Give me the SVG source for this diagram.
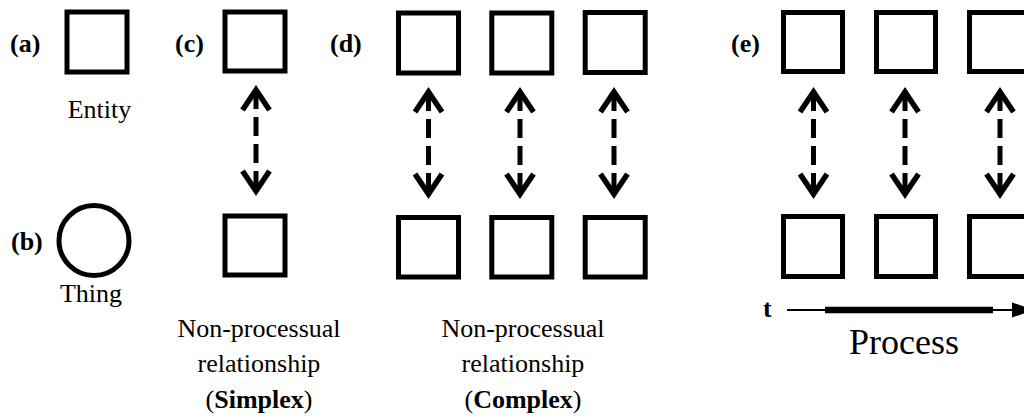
<svg xmlns="http://www.w3.org/2000/svg" width="1024" height="416" viewBox="0 0 1024 416">
  <style>
    .box { fill: #fff; stroke: #000; stroke-width: 5; }
    text { font-family: 'Liberation Serif', 'Times New Roman', 'DejaVu Serif', serif; font-size: 26px; fill: #000; }
    .tag { font-weight: bold; }
    .mid { text-anchor: middle; }
    .link { fill: none; stroke: #000; stroke-width: 5; stroke-dasharray: 19 8; }
    .axis-thin { stroke: #000; stroke-width: 2.2; }
    .axis-thick { stroke: #000; stroke-width: 6.5; }
  </style>
  <defs>
    <!-- open chevron head used on both ends of the dashed links -->
    <marker id="chev" markerUnits="userSpaceOnUse" markerWidth="40" markerHeight="40"
            viewBox="-30 -20 40 40" refX="0" refY="0" orient="auto-start-reverse" overflow="visible">
      <path d="M-20,-13.5 L0,0 L-20,13.5" fill="none" stroke="#000" stroke-width="5.5" stroke-dasharray="none" stroke-linejoin="miter"/>
    </marker>
  </defs>
  <rect width="1024" height="416" fill="#fff"/>

  <!-- panel labels -->
  <g id="panel-labels">
    <text class="tag" x="10" y="52" font-family="Liberation Serif, serif">(a)</text>
    <text class="tag" x="11" y="250" font-family="Liberation Serif, serif">(b)</text>
    <text class="tag" x="175" y="52" font-family="Liberation Serif, serif">(c)</text>
    <text class="tag" x="330" y="52" font-family="Liberation Serif, serif">(d)</text>
    <text class="tag" x="731" y="52" font-family="Liberation Serif, serif">(e)</text>
  </g>

  <!-- (a) entity -->
  <g id="entity">
    <rect class="box" x="67" y="12" width="60" height="60"/>
    <text class="mid" x="99.5" y="118">Entity</text>
  </g>

  <!-- (b) thing -->
  <g id="thing">
    <circle cx="94" cy="240.5" r="35" fill="#fff" stroke="#000" stroke-width="5"/>
    <text class="mid" x="91" y="302">Thing</text>
  </g>

  <!-- (c) simplex -->
  <g id="simplex-top"><rect class="box" x="225" y="12" width="60" height="59"/></g>
  <g id="simplex-bottom"><rect class="box" x="225" y="216" width="60" height="59"/></g>
  <g id="simplex-caption">
    <text class="mid" x="259" y="337">Non-processual</text>
    <text class="mid" x="259" y="372">relationship</text>
    <text class="mid" x="259" y="408">(<tspan class="tag">Simplex</tspan>)</text>
  </g>

  <!-- (d) complex -->
  <g id="complex-top-1"><rect class="box" x="398.5" y="13" width="60" height="60"/></g>
  <g id="complex-top-2"><rect class="box" x="491.8" y="13" width="60" height="60"/></g>
  <g id="complex-top-3"><rect class="box" x="585.2" y="12.5" width="60" height="60"/></g>
  <g id="complex-bottom-1"><rect class="box" x="398.5" y="217.5" width="60" height="59.5"/></g>
  <g id="complex-bottom-2"><rect class="box" x="491.8" y="217.5" width="60" height="59.5"/></g>
  <g id="complex-bottom-3"><rect class="box" x="585.2" y="217.5" width="60" height="59.5"/></g>
  <g id="complex-caption">
    <text class="mid" x="523" y="337">Non-processual</text>
    <text class="mid" x="523" y="372">relationship</text>
    <text class="mid" x="523" y="408">(<tspan class="tag">Complex</tspan>)</text>
  </g>

  <!-- (e) process -->
  <g id="process-top-1"><rect class="box" x="783.5" y="12.5" width="59" height="59"/></g>
  <g id="process-top-2"><rect class="box" x="876.5" y="12.5" width="59" height="59"/></g>
  <g id="process-top-3"><rect class="box" x="969.5" y="12.5" width="59" height="59"/></g>
  <g id="process-bottom-1"><rect class="box" x="783.5" y="216.5" width="59" height="60"/></g>
  <g id="process-bottom-2"><rect class="box" x="876.5" y="216.5" width="59" height="60"/></g>
  <g id="process-bottom-3"><rect class="box" x="969.5" y="216.5" width="59" height="60"/></g>
  <g id="process-caption">
    <text class="tag" x="763" y="317">t</text>
    <text class="mid" x="904" y="354" style="font-size:36px">Process</text>
  </g>

  <!-- connectors -->
  <g id="connectors">
    <line class="link" x1="256" y1="90" x2="256" y2="191" marker-start="url(#chev)" marker-end="url(#chev)"/>
    <line class="link" x1="428.5" y1="92" x2="428.5" y2="194" marker-start="url(#chev)" marker-end="url(#chev)"/>
    <line class="link" x1="520" y1="92" x2="520" y2="194" marker-start="url(#chev)" marker-end="url(#chev)"/>
    <line class="link" x1="614" y1="92" x2="614" y2="194" marker-start="url(#chev)" marker-end="url(#chev)"/>
    <line class="link" x1="813.5" y1="92" x2="813.5" y2="194" marker-start="url(#chev)" marker-end="url(#chev)"/>
    <line class="link" x1="905" y1="92" x2="905" y2="194" marker-start="url(#chev)" marker-end="url(#chev)"/>
    <line class="link" x1="1000" y1="92" x2="1000" y2="194" marker-start="url(#chev)" marker-end="url(#chev)"/>
    <!-- time axis -->
    <line class="axis-thin" x1="787" y1="310" x2="1014" y2="310"/>
    <line class="axis-thick" x1="825" y1="310" x2="993" y2="310"/>
    <polygon points="1012,302.5 1034,310 1012,317.5" fill="#000"/>
  </g>
</svg>
